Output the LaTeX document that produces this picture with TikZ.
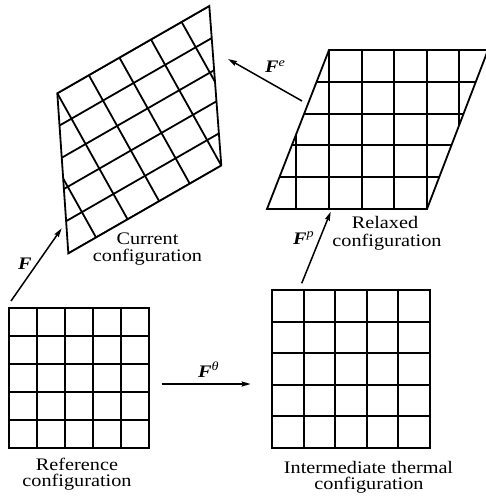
\documentclass[tikz,border=0pt]{standalone}
\usepackage{fontspec}
\setmainfont[FakeStretch=1.15]{Liberation Serif}
\usetikzlibrary{arrows.meta}
\tikzset{
  gridline/.style={line width=1.8pt, line join=miter, line cap=rect},
  arr/.style={line width=1.5pt, -{Stealth[length=9pt,width=5pt,inset=1pt]}},
  lab/.style={font=\fontsize{17.6}{16}\selectfont, inner sep=0pt, anchor=base},
  flab/.style={font=\fontsize{17.6}{16}\selectfont, inner sep=0pt, anchor=base west}
}
\newcommand\slipgrid{%
  \begin{scope}
    \clip (0,0) -- (159,0) -- (98,159) -- (-62,159) -- cycle;
    \foreach \k in {-65,-33,0,33,65,98,130,163} \draw[gridline] (\k,-5) -- (\k,165);
    \foreach \k in {0,32,64,95,127,159} \draw[gridline] (-70,\k) -- (170,\k);
  \end{scope}
  \draw[gridline] (0,0) -- (159,0) -- (98,159) -- (-62,159) -- cycle;
}
\begin{document}
\begin{tikzpicture}[x=1pt,y=-1pt]
\useasboundingbox (0,0) rectangle (486,497);

% Reference configuration
\foreach \i in {0,...,5} {
  \draw[gridline] ({9+28*\i},308) -- ({9+28*\i},448);
  \draw[gridline] (9,{308+28*\i}) -- (149,{308+28*\i});
}
% Intermediate thermal configuration
\foreach \v in {272,304,335,367,398,430} {
  \draw[gridline] (\v,290) -- (\v,448);
}
\foreach \v in {290,322,353,385,416,448} {
  \draw[gridline] (272,\v) -- (430,\v);
}
% Relaxed configuration
\begin{scope}[shift={(329,50)}]
  \slipgrid
\end{scope}
% Current configuration
\begin{scope}[shift={(57.3,93.3)}, x={(0.9560pt,0.5491pt)}, y={(0.4422pt,-0.7927pt)}]
  \slipgrid
\end{scope}

% labels
\node[lab] (cur1) at (147.5,244) {Current};
\node[lab] (cur2) at (147.5,261.5) {configuration};
\node[lab] (rel1) at (385,228) {Relaxed};
\node[lab] (rel2) at (387,246) {configuration};
\node[lab] (ref1) at (77,470) {Reference};
\node[lab] (ref2) at (77,486) {configuration};
\node[lab] (int1) at (368.5,473) {Intermediate thermal};
\node[lab] (int2) at (369,489) {configuration};

% arrows
\coordinate (Fa) at (11,301);      \coordinate (Fb) at (61.7,228.3);
\coordinate (Ta) at (161.7,384);   \coordinate (Tb) at (250.7,384);
\coordinate (Pa) at (301.7,283.3); \coordinate (Pb) at (330.7,211.7);
\coordinate (Ea) at (302,101);     \coordinate (Eb) at (228,59);
\draw[arr] (Fa) -- (Fb);
\draw[arr] (Ta) -- (Tb);
\draw[arr] (Pa) -- (Pb);
\draw[arr] (Ea) -- (Eb);

\node[flab] (lF) at (18,269) {\textbf{\textit{F}}};
\node[flab] (lT) at (198,377) {\textbf{\textit{F}}\textsuperscript{\textit{θ}}};
\node[flab] (lP) at (293,244) {\textbf{\textit{F}}\textsuperscript{\textit{p}}};
\node[flab] (lE) at (265,73) {\textbf{\textit{F}}\textsuperscript{\textit{e}}};
\end{tikzpicture}
\end{document}
